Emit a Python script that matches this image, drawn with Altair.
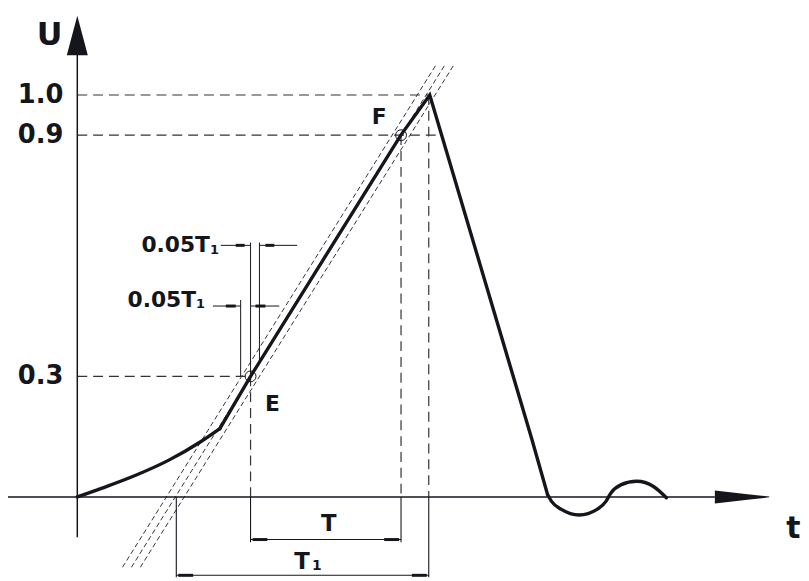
import altair as alt
import pandas as pd

# ---------------- data (t: arbitrary time units, U: normalised voltage) ----------------
# part 0 = curved toe, 1 = straight front / tail, 2 = oscillating end
wave_t = [0.00, 0.25, 0.59, 0.92, 1.25, 1.44,
          1.44, 1.75, 3.27, 3.56, 4.59, 4.75,
          4.75, 4.79, 4.89, 5.07, 5.25, 5.34, 5.39, 5.49, 5.65, 5.82, 5.95]
wave_u = [0.000, 0.022, 0.054, 0.091, 0.138, 0.170,
          0.170, 0.300, 0.901, 1.000, 0.145, 0.006,
          0.006, -0.011, -0.031, -0.045, -0.031, -0.011, 0.010, 0.030, 0.039, 0.026, -0.002]
wave_part = [0] * 6 + [1] * 6 + [2] * 11

level_u = [1.0, 0.9, 0.3]
level_labels = ["1.0", "0.9", "0.3"]
level_end_t = [3.55, 3.69, 1.75]

point_names = ["E", "F"]
point_t = [1.75, 3.27]
point_u = [0.3, 0.9]
t_peak = 3.55
half_band = 0.09       # half width of the +-0.05T1 band (drawing units)
slant_u = [-0.175, 1.074]

ext_t = [1.00, 1.75, 3.27, 3.55]
ext_u = [-0.200, -0.113, -0.113, -0.200]

dim_names = ["T", "T1"]
dim_t0 = [1.75, 1.00]
dim_t1 = [3.27, 3.55]
dim_u = [-0.106, -0.195]

# 0.05T1 helper lines
tol_vert_t = [1.75, 1.84, 1.65]
tol_vert_u0 = [0.633, 0.633, 0.490]
tol_vert_u1 = [0.300, 0.330, 0.300]
tol_line_t0 = [1.45, 2.22, 1.37, 2.04]
tol_line_t1 = [1.75, 1.84, 1.65, 1.75]
tol_line_u = [0.626, 0.626, 0.475, 0.475]
tol_bar_t0 = [1.60, 1.90, 1.50, 1.80]
tol_bar_t1 = [1.69, 1.99, 1.60, 1.90]

T_MIN, T_MAX = -0.70, 7.31
U_MIN, U_MAX = -0.2020, 1.2094

# ---------------- build layers ----------------
xs = alt.Scale(domain=[T_MIN, T_MAX], nice=False, zero=False)
ys = alt.Scale(domain=[U_MIN, U_MAX], nice=False, zero=False)
DARK = "#15151c"
GREY = "#333333"
FONT = "DejaVu Sans"
X = lambda f="t:Q": alt.X(f, scale=xs, axis=None)
Y = lambda f="u:Q": alt.Y(f, scale=ys, axis=None)


def seg_df(t0, t1, u0, u1):
    return pd.DataFrame({"t": t0, "t2": t1, "u": u0, "u2": u1})


def rules(df, color=DARK, width=1.3, dash=None):
    kw = dict(color=color, strokeWidth=width)
    if dash:
        kw["strokeDash"] = dash
    return alt.Chart(df).mark_rule(**kw).encode(x=X(), x2="t2:Q", y=Y(), y2="u2:Q")


def texts(df, size, align="center", baseline="middle"):
    return alt.Chart(df).mark_text(font=FONT, fontWeight="bold", fontSize=size,
                                   align=align, baseline=baseline, color=DARK).encode(
        x=X(), y=Y(), text="label:N")


wave = pd.DataFrame({"t": wave_t, "u": wave_u, "part": wave_part, "i": range(len(wave_t))})


def wave_piece(p, interp):
    return alt.Chart(wave[wave.part == p]).mark_line(
        color=DARK, strokeWidth=3.4, interpolate=interp, strokeCap="round").encode(
        x=X(), y=Y(), order="i:Q")


wave_layers = [wave_piece(0, "monotone"), wave_piece(1, "linear"), wave_piece(2, "monotone")]

# axes
axes_layer = rules(seg_df([0.0, -0.78], [0.0, 6.44], [-0.10, 0.0], [1.13, 0.0]), width=1.5)

# level dashed lines
lvl_layer = rules(seg_df([0.0] * 3, level_end_t, level_u, level_u), color=GREY, width=1.2, dash=[10, 6])
vd_layer = rules(seg_df([1.75, 3.27, t_peak], [1.75, 3.27, t_peak], [0.3, 0.9, 1.0], [0, 0, 0]),
                 color=GREY, width=1.2, dash=[10, 6])

# slanted dashed band through E and F
slope = (point_t[1] - point_t[0]) / (point_u[1] - point_u[0])
sl_t0, sl_t1 = [], []
for off in (-half_band, 0.0, half_band):
    sl_t0.append(point_t[0] + (slant_u[0] - point_u[0]) * slope + off)
    sl_t1.append(point_t[0] + (slant_u[1] - point_u[0]) * slope + off)
slant_layer = rules(seg_df(sl_t0, sl_t1, [slant_u[0]] * 3, [slant_u[1]] * 3),
                    color=GREY, width=1.0, dash=[5, 3])

# extension & dimension lines
ext_layer = rules(seg_df(ext_t, ext_t, [0.0] * 4, ext_u), width=1.1)
dim_layer = rules(seg_df(dim_t0, dim_t1, dim_u, dim_u), width=1.1)
dim_bar = rules(seg_df([dim_t0[0] + 0.02, dim_t1[0] - 0.17, dim_t0[1] + 0.02, dim_t1[1] - 0.17],
                       [dim_t0[0] + 0.17, dim_t1[0] - 0.02, dim_t0[1] + 0.17, dim_t1[1] - 0.02],
                       [dim_u[0], dim_u[0], dim_u[1], dim_u[1]],
                       [dim_u[0], dim_u[0], dim_u[1], dim_u[1]]), width=3)

# 0.05T1 helper lines
tol_v = rules(seg_df(tol_vert_t, tol_vert_t, tol_vert_u0, tol_vert_u1), width=1.0)
tol_h = rules(seg_df(tol_line_t0, tol_line_t1, tol_line_u, tol_line_u), width=1.0)
tol_b = rules(seg_df(tol_bar_t0, tol_bar_t1, tol_line_u, tol_line_u), width=3)

# circles at E, F
pts = pd.DataFrame({"t": point_t, "u": point_u})
circ = alt.Chart(pts).mark_point(shape="circle", size=120, color=DARK, strokeWidth=1, filled=False,
                                 opacity=1).encode(x=X(), y=Y())

# arrow heads
arr_y = alt.Chart(pd.DataFrame({"t": [0.0], "u": [1.148]})).mark_point(
    shape="M0,-1L0.53,1L-0.53,1Z", size=1600, filled=True, opacity=1, color=DARK, strokeWidth=0).encode(
    x=X(), y=Y())
arr_x = alt.Chart(pd.DataFrame({"t": [6.715], "u": [0.0]})).mark_point(
    shape="M-1,-0.24L0.2,-0.1L1,-0.015L1,0.015L0.2,0.1L-1,0.24Z", size=3025, filled=True, opacity=1,
    color=DARK, strokeWidth=0).encode(x=X(), y=Y())

# text
lvl_txt = texts(pd.DataFrame({"t": [-0.14] * 3, "u": level_u, "label": level_labels}), 26, align="right")
u_txt = texts(pd.DataFrame({"t": [-0.28], "u": [1.148], "label": ["U"]}), 32)
t_txt = texts(pd.DataFrame({"t": [7.16], "u": [-0.044], "label": ["t"]}), 30, align="left", baseline="top")
ef_txt = texts(pd.DataFrame({"t": [1.97, 3.05], "u": [0.232, 0.946], "label": point_names}), 22)
tol_txt = texts(pd.DataFrame({"t": [1.34, 1.20], "u": [0.627, 0.491], "label": ["0.05T", "0.05T"]}), 22,
                align="right")
tol_sub = texts(pd.DataFrame({"t": [1.34, 1.20], "u": [0.615, 0.479], "label": ["1", "1"]}), 13,
                align="left")
dim_txt = texts(pd.DataFrame({"t": [2.54, 2.27], "u": [-0.067, -0.163], "label": ["T", "T"]}), 23)
dim_sub = texts(pd.DataFrame({"t": [2.37], "u": [-0.172], "label": ["1"]}), 14, align="left")

chart = alt.layer(
    lvl_layer, vd_layer, slant_layer, axes_layer, ext_layer, dim_layer, dim_bar,
    tol_v, tol_h, tol_b, *wave_layers, circ, arr_y, arr_x,
    lvl_txt, u_txt, t_txt, ef_txt, tol_txt, tol_sub, dim_txt, dim_sub,
).properties(
    width=801, height=573, padding=0,
    autosize=alt.AutoSizeParams(type="none"),
).configure(background="white").configure_view(stroke=None)

chart.save("out.html", embed_options={"renderer": "svg", "actions": False})
